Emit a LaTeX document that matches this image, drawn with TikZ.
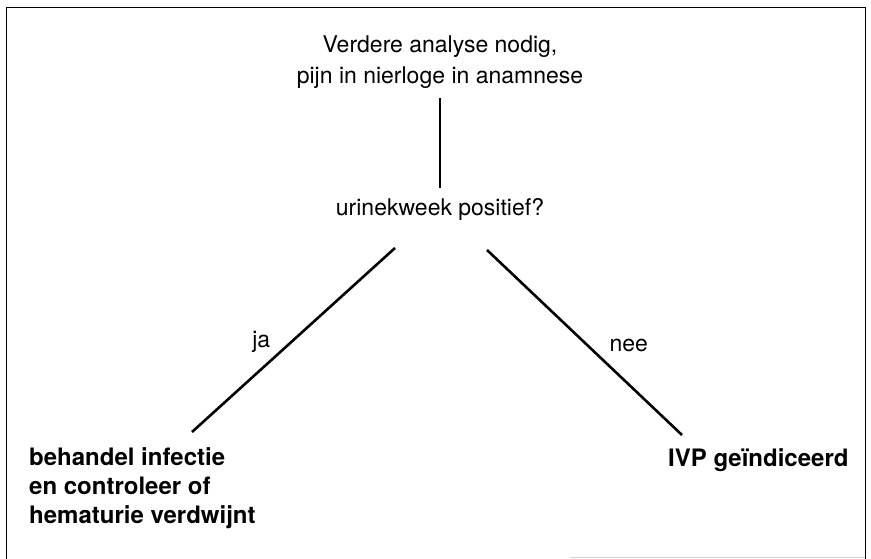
\documentclass[tikz,border=0pt]{standalone}
\usepackage{fontspec}
\setmainfont{TeX Gyre Heros}
\usetikzlibrary{positioning}

\tikzset{
  plain/.style={font=\fontsize{23}{31}\selectfont, inner sep=0pt},
  verdict/.style={font=\fontsize{24}{29}\selectfont\bfseries, inner sep=0pt, align=left},
  branch/.style={line width=2.6pt},
}

\begin{document}
\begin{tikzpicture}[x=1pt,y=-1pt]
    \useasboundingbox (0,0) rectangle (871,559);
    \draw[line width=0.9pt] (6,559) -- (6,7) -- (865,7) -- (865,559);
    \draw[gray!35, line width=0.8pt] (570,557) -- (865,557);

    \node[plain, align=center, anchor=north] (anamn) at (440,35.5)
      {Verdere analyse nodig,\\pijn in nierloge in anamnese};
    \node[plain, anchor=base] (query) at (440,215) {urinekweek positief?};
    \node[verdict, anchor=north west] (treat) at (29,447)
      {behandel infectie\\en controleer of\\hematurie verdwijnt};
    \node[verdict, anchor=base west] (ivp) at (668,466) {IVP geïndiceerd};

    \draw[branch, shorten <=9pt, shorten >=10pt] (anamn) -- (query);
    \draw[branch] ([xshift=-45pt,yshift=-33pt]query.base)
      -- node[plain, pos=0.51, left=20pt] (yes) {ja}
      ([xshift=163pt,yshift=15pt]treat.north west);
    \draw[branch] ([xshift=47pt,yshift=-35pt]query.base)
      -- node[plain, pos=0.514, right=21pt] (no) {nee}
      ([xshift=14pt,yshift=31pt]ivp.base west);
\end{tikzpicture}
\end{document}
